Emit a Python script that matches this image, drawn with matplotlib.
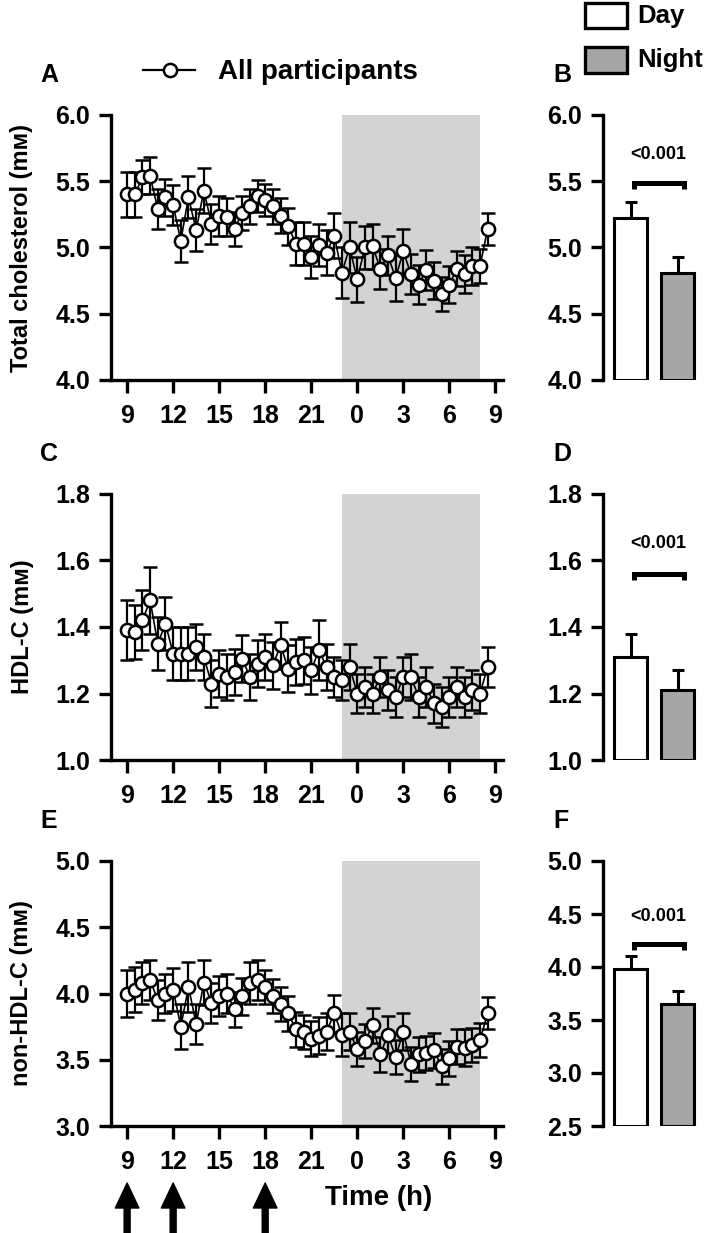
import matplotlib
matplotlib.use('Agg')
import matplotlib.pyplot as plt
import numpy as np
from matplotlib.patches import Rectangle
from matplotlib.lines import Line2D

plt.rcParams['font.family'] = ['Liberation Sans', 'DejaVu Sans']
plt.rcParams['font.weight'] = 'bold'

# ---------------- data ----------------
hours = np.arange(9, 33, 0.5)  # sampling times (clock h, 9:00 .. 8:30 next day)
xtick_pos = [9, 12, 15, 18, 21, 24, 27, 30, 33]
xtick_labels = ['9', '12', '15', '18', '21', '0', '3', '6', '9']

tc_mean = [5.40, 5.40, 5.53, 5.54, 5.29, 5.38, 5.32, 5.05, 5.38, 5.13, 5.43, 5.18,
           5.24, 5.23, 5.14, 5.26, 5.31, 5.39, 5.36, 5.31, 5.24, 5.16, 5.03, 5.03,
           4.93, 5.02, 4.96, 5.09, 4.81, 5.00, 4.76, 5.00, 5.01, 4.84, 4.94, 4.77,
           4.97, 4.80, 4.72, 4.83, 4.75, 4.65, 4.72, 4.84, 4.80, 4.86, 4.86, 5.14]
tc_sem = [0.17, 0.17, 0.13, 0.14, 0.15, 0.14, 0.15, 0.16, 0.16, 0.16, 0.17, 0.15,
          0.15, 0.14, 0.13, 0.13, 0.13, 0.12, 0.12, 0.13, 0.13, 0.14, 0.16, 0.16,
          0.16, 0.16, 0.17, 0.17, 0.19, 0.19, 0.17, 0.16, 0.17, 0.15, 0.15, 0.17,
          0.17, 0.15, 0.15, 0.15, 0.14, 0.13, 0.14, 0.13, 0.14, 0.14, 0.13, 0.12]

hdl_mean = [1.39, 1.385, 1.42, 1.48, 1.35, 1.41, 1.32, 1.32, 1.32, 1.34, 1.31, 1.23,
            1.26, 1.25, 1.265, 1.305, 1.25, 1.29, 1.31, 1.285, 1.345, 1.275, 1.295, 1.30,
            1.27, 1.33, 1.28, 1.25, 1.24, 1.28, 1.20, 1.22, 1.20, 1.25, 1.21, 1.19,
            1.25, 1.25, 1.19, 1.22, 1.17, 1.16, 1.19, 1.22, 1.19, 1.21, 1.20, 1.28]
hdl_sem = [0.09, 0.08, 0.09, 0.10, 0.08, 0.08, 0.08, 0.08, 0.08, 0.07, 0.07, 0.07,
           0.07, 0.07, 0.07, 0.07, 0.07, 0.07, 0.07, 0.07, 0.07, 0.07, 0.07, 0.07,
           0.07, 0.09, 0.07, 0.06, 0.06, 0.07, 0.06, 0.06, 0.06, 0.06, 0.06, 0.06,
           0.06, 0.07, 0.06, 0.06, 0.06, 0.06, 0.06, 0.06, 0.06, 0.06, 0.06, 0.06]

nhdl_mean = [4.00, 4.03, 4.08, 4.10, 3.95, 4.00, 4.03, 3.75, 4.05, 3.77, 4.08, 3.93,
             3.98, 4.00, 3.88, 3.98, 4.08, 4.10, 4.05, 3.98, 3.92, 3.85, 3.73, 3.71,
             3.66, 3.68, 3.71, 3.85, 3.69, 3.71, 3.58, 3.64, 3.76, 3.54, 3.69, 3.52,
             3.71, 3.47, 3.54, 3.55, 3.57, 3.45, 3.51, 3.60, 3.59, 3.61, 3.65, 3.85]
nhdl_sem = [0.18, 0.17, 0.16, 0.15, 0.15, 0.15, 0.16, 0.17, 0.19, 0.15, 0.17, 0.15,
            0.15, 0.15, 0.13, 0.14, 0.16, 0.15, 0.13, 0.13, 0.13, 0.13, 0.13, 0.13,
            0.13, 0.14, 0.14, 0.14, 0.16, 0.14, 0.13, 0.13, 0.13, 0.13, 0.14, 0.13,
            0.14, 0.13, 0.13, 0.13, 0.13, 0.13, 0.13, 0.13, 0.14, 0.13, 0.13, 0.12]

bar_groups = ['Day', 'Night']
tc_bar = [5.22, 4.81]
tc_bar_err = [0.12, 0.12]
hdl_bar = [1.31, 1.21]
hdl_bar_err = [0.07, 0.06]
nhdl_bar = [3.98, 3.65]
nhdl_bar_err = [0.12, 0.12]
p_text = '<0.001'

# ---------------- layout ----------------
W, H = 709, 1233
fig = plt.figure(figsize=(W / 100, H / 100), dpi=100)

def fx(px):
    return px / W

def fy(py):
    return 1 - py / H

panels = [(115, 380), (494, 760), (861, 1126)]
main_l, main_r = 111, 503
bar_l, bar_r = 603, 703

SPW = 2.4
TICKFS = 18

def style(ax):
    for s in ['top', 'right']:
        ax.spines[s].set_visible(False)
    for s in ['left', 'bottom']:
        ax.spines[s].set_linewidth(SPW)
    ax.tick_params(direction='out', length=9, width=SPW, labelsize=TICKFS, pad=6)
    for lab in ax.get_xticklabels() + ax.get_yticklabels():
        lab.set_fontweight('bold')

main_specs = [
    (tc_mean, tc_sem, (4.0, 6.0), [4.0, 4.5, 5.0, 5.5, 6.0], '{:.1f}', 'Total cholesterol (mᴍ)', 'A'),
    (hdl_mean, hdl_sem, (1.0, 1.8), [1.0, 1.2, 1.4, 1.6, 1.8], '{:.1f}', 'HDL-C (mᴍ)', 'C'),
    (nhdl_mean, nhdl_sem, (3.0, 5.0), [3.0, 3.5, 4.0, 4.5, 5.0], '{:.1f}', 'non-HDL-C (mᴍ)', 'E'),
]
bar_specs = [
    (tc_bar, tc_bar_err, (4.0, 6.0), [4.0, 4.5, 5.0, 5.5, 6.0], 5.487, 0.045, 5.70, 'B'),
    (hdl_bar, hdl_bar_err, (1.0, 1.8), [1.0, 1.2, 1.4, 1.6, 1.8], 1.56, 0.018, 1.65, 'D'),
    (nhdl_bar, nhdl_bar_err, (2.5, 5.0), [2.5, 3.0, 3.5, 4.0, 4.5, 5.0], 4.22, 0.056, 4.48, 'F'),
]

main_axes = []
for (top, bot), (m, e, yl, yt, f, lab, let) in zip(panels, main_specs):
    ax = fig.add_axes([fx(main_l), fy(bot), fx(main_r) - fx(main_l), (bot - top) / H])
    ax.axvspan(23, 32, color='#d3d3d3', lw=0, zorder=0)
    ax.errorbar(hours, m, yerr=e, fmt='-o', color='black', mfc='white', mec='black',
                ms=9.5, mew=1.8, lw=1.2, elinewidth=1.6, capsize=4.8, capthick=1.6, zorder=3)
    ax.set_xlim(7.95, 33.5)
    ax.set_ylim(*yl)
    ax.set_yticks(yt)
    ax.set_yticklabels([f.format(v) for v in yt])
    ax.set_xticks(xtick_pos)
    ax.set_xticklabels(xtick_labels)
    style(ax)
    ax.tick_params(axis='x', pad=8)
    fig.text(fx(22), fy((top + bot) / 2), lab, rotation=90, ha='center', va='center',
             fontsize=17, fontweight='bold', family=['Liberation Sans', 'DejaVu Sans'])
    fig.text(fx(40), fy(top - 40), let, ha='left', va='center', fontsize=18, fontweight='bold')
    main_axes.append(ax)

for (top, bot), (v, e, yl, yt, by, bd, ty, let) in zip(panels, bar_specs):
    ax = fig.add_axes([fx(bar_l), fy(bot), fx(bar_r) - fx(bar_l), (bot - top) / H])
    base = yl[0]
    ax.bar([0, 1], [vv - base for vv in v], bottom=base, width=0.7,
           color=['white', '#a6a6a6'], edgecolor='black', lw=2.2, zorder=2)
    ax.errorbar([0, 1], v, yerr=[[0, 0], e], fmt='none', ecolor='black',
                elinewidth=2.2, capsize=4.5, capthick=2.2, zorder=1)
    ax.plot([0.08, 0.08, 1.13, 1.13], [by - bd, by, by, by - bd], color='black', lw=3.6,
            solid_joinstyle='miter', solid_capstyle='butt', clip_on=False)
    ax.text(0.585, ty, p_text, ha='center', va='center', fontsize=13, fontweight='bold',
            family=['Liberation Sans Narrow', 'Liberation Sans', 'DejaVu Sans'])
    ax.set_xlim(-0.585, 1.54)
    ax.set_ylim(*yl)
    ax.set_yticks(yt)
    ax.set_yticklabels(['{:.1f}'.format(t) for t in yt])
    ax.set_xticks([])
    style(ax)
    ax.spines['bottom'].set_visible(False)
    fig.text(fx(553), fy(top - 40), let, ha='left', va='center', fontsize=18, fontweight='bold')

# legend: All participants
fig.add_artist(Line2D([fx(143), fx(195)], [fy(70), fy(70)], color='black', lw=1.6))
fig.add_artist(Line2D([fx(170)], [fy(70)], marker='o', ms=9.5, mfc='white', mec='black', mew=1.8))
fig.text(fx(218), fy(72), 'All participants', ha='left', va='center', fontsize=20, fontweight='bold')

# legend: Day / Night
for (y0, y1), col, lab in [((3, 28), 'white', 'Day'), ((47, 73), '#a6a6a6', 'Night')]:
    fig.add_artist(Rectangle((fx(585), fy(y1)), fx(627) - fx(585), (y1 - y0) / H,
                             facecolor=col, edgecolor='black', lw=2.4, transform=fig.transFigure))
    fig.text(fx(637), fy((y0 + y1) / 2), lab, ha='left', va='center', fontsize=18.5, fontweight='bold')

# meal arrows and x label
axE = main_axes[2]
for h in [9, 12, 18]:
    axE.annotate('', xy=(h, H - 1183), xytext=(h, -2),
                 xycoords=('data', 'figure pixels'), textcoords=('data', 'figure pixels'),
                 arrowprops=dict(facecolor='black', edgecolor='black', width=4.3,
                                 headwidth=17, headlength=18, shrink=0),
                 annotation_clip=False)
fig.text(fx(379), fy(1198), 'Time (h)', ha='center', va='center', fontsize=20, fontweight='bold')

fig.savefig('out.png', dpi=100)
